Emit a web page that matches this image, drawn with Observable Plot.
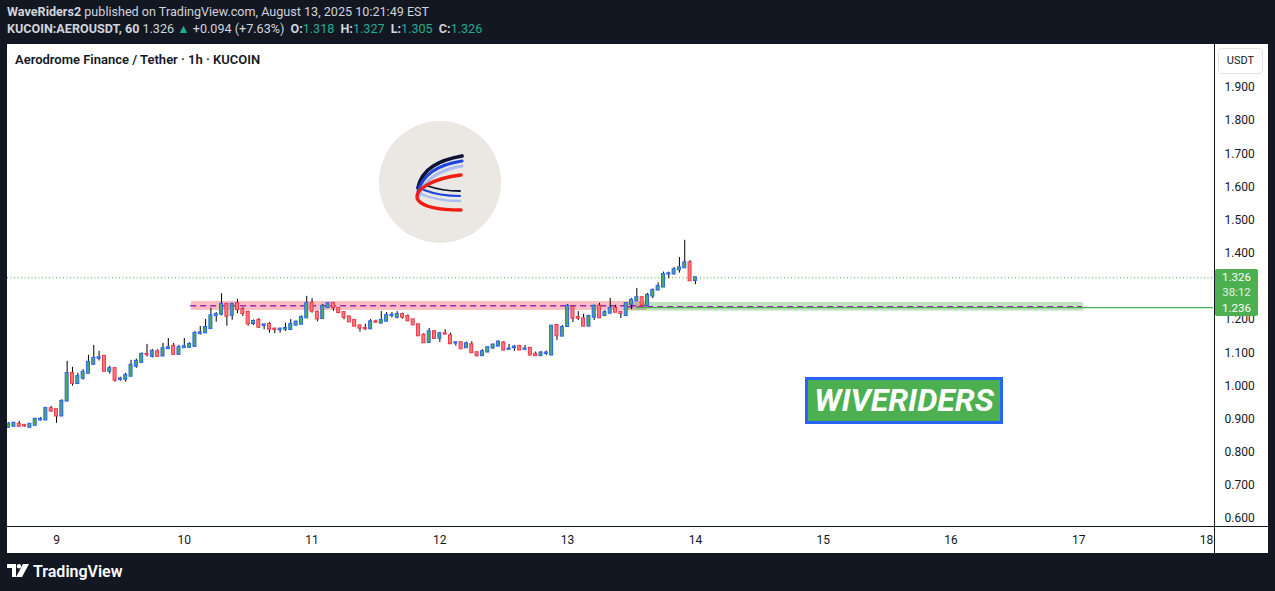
<!DOCTYPE html>
<html><head><meta charset="utf-8">
<script src="https://cdn.jsdelivr.net/npm/d3@7"></script>
<script src="https://cdn.jsdelivr.net/npm/@observablehq/plot@0.6"></script>
<style>
html,body{margin:0;padding:0;}
body{width:1275px;height:591px;background:#131722;position:relative;overflow:hidden;font-family:Roboto,"Noto Sans",sans-serif;}
.hdr{position:absolute;left:7px;color:#d1d4dc;font-size:12.6px;white-space:nowrap;line-height:16px;}
.hdr b{font-weight:700;}
.up{color:#22ab94;}
.sp{margin-left:3px;}
#panel{position:absolute;left:7px;top:44px;width:1261px;height:509px;background:#fff;overflow:hidden;}
#title{position:absolute;left:8px;top:8px;font-size:13px;font-weight:600;color:#131722;white-space:nowrap;}
.vline{position:absolute;left:1207px;top:0;width:1px;height:509px;background:#131722;}
.hline{position:absolute;left:0;top:482px;width:1261px;height:1px;background:#131722;}
#usdt{position:absolute;left:1211px;top:4px;width:43px;height:24px;border:1px solid #e0e3eb;border-radius:4px;font-size:11px;color:#131722;text-align:center;line-height:24px;background:#fff;}
#plabel{position:absolute;left:1208px;width:43px;background:#4caf50;border-radius:2px;color:#fff;font-size:11.5px;text-align:center;}
#plabel div{position:absolute;left:0;width:43px;height:13px;line-height:13px;}
#wr{position:absolute;left:798px;top:333px;width:192px;height:41px;background:#4caf50;border:3px solid #2962ff;color:#fff;font-weight:700;font-style:italic;font-size:32px;line-height:41px;text-align:center;font-family:Roboto,sans-serif;}
#logo{position:absolute;left:0;top:0;}
#foot{position:absolute;left:7px;top:562px;color:#fff;font-size:16px;font-weight:600;white-space:nowrap;}
</style>
</head><body>
<div class="hdr" style="top:4px"><b>WaveRiders2</b> published on TradingView.com, August 13, 2025 10:21:49 EST</div>
<div class="hdr" style="top:21px"><b>KUCOIN:AEROUSDT, 60</b><span class="sp">1.326</span> <span class="up">▲</span> +0.094 (+7.63%) <b class="sp">O:</b><span class="up">1.318</span> <b class="sp">H:</b><span class="up">1.327</span> <b class="sp">L:</b><span class="up">1.305</span> <b class="sp">C:</b><span class="up">1.326</span></div>
<div id="panel">
  <div id="chart"></div>
  <div id="title">Aerodrome Finance / Tether · 1h · KUCOIN</div>
  <svg id="logo" width="1261" height="482">
    <circle cx="433" cy="138" r="61" fill="#ebe8e3"/>
    <g fill="none" stroke-linecap="round">
      <path d="M411,144 C415,124 433,116 455,112" stroke="#0c1233" stroke-width="3.8"/>
      <path d="M411,148 C416,128 435,120 455,117" stroke="#1f45e0" stroke-width="3.2"/>
      <path d="M412,152 C418,133 437,125 455,122" stroke="#a9bdf2" stroke-width="3.2"/>
      <path d="M421,142 C432,146 443,147 453,147" stroke="#0c1233" stroke-width="1.8"/>
      <path d="M417,146 C430,151 443,152 453,152" stroke="#1f45e0" stroke-width="2.2"/>
      <path d="M414,150 C428,156 443,157 453,157" stroke="#a9bdf2" stroke-width="2.4"/>
      <path d="M454,131 C427,134 405,146 411,156 C417,164 438,166 454,166" stroke="#f21d12" stroke-width="3.4"/>
    </g>
  </svg>
  <div id="wr">WIVERIDERS</div>
  <div class="vline"></div>
  <div class="hline"></div>
  <div id="usdt">USDT</div>
  <div id="plabel"><div style="top:2px">1.326</div><div style="top:17px;color:#e3f2e3">38:12</div><div style="top:33px">1.236</div></div>
</div>
<div id="foot"><svg width="24" height="14" style="vertical-align:-1px;margin-right:2px"><path d="M0,0H9V13H5V4H0Z" fill="#fff"/><circle cx="12" cy="2.2" r="2.2" fill="#fff"/><path d="M16,0H22L15,13H9Z" fill="#fff"/></svg>TradingView</div>
<script>
// Hourly candles, first candle = Aug 8 15:00, last = Aug 14 00:00
const startDay = 8, startHour = 15;
const opens = [0.875,0.878,0.884,0.880,0.875,0.881,0.897,0.897,0.931,0.928,
0.909,0.954,1.037,1.007,1.023,1.038,1.065,1.083,1.089,1.044,
1.052,1.019,1.020,1.029,1.059,1.071,1.095,1.089,1.103,1.090,
1.112,1.119,1.095,1.115,1.116,1.119,1.158,1.160,1.173,1.212,
1.216,1.246,1.213,1.248,1.230,1.222,1.188,1.197,1.182,1.185,
1.171,1.169,1.171,1.170,1.183,1.186,1.205,1.248,1.222,1.203,
1.236,1.248,1.233,1.221,1.208,1.197,1.181,1.173,1.172,1.193,
1.189,1.195,1.212,1.207,1.215,1.209,1.199,1.184,1.152,1.131,
1.163,1.144,1.157,1.151,1.129,1.130,1.115,1.124,1.100,1.091,
1.102,1.114,1.120,1.129,1.110,1.115,1.119,1.110,1.113,1.095,
1.091,1.098,1.093,1.182,1.150,1.179,1.237,1.206,1.202,1.180,
1.207,1.240,1.212,1.219,1.234,1.222,1.212,1.246,1.256,1.266,
1.242,1.271,1.289,1.298,1.337,1.338,1.350,1.356,1.371,1.318];
const highs = [0.889,0.890,0.893,0.884,0.886,0.902,0.904,0.934,0.938,0.928,
0.958,1.074,1.056,1.038,1.049,1.092,1.122,1.104,1.089,1.059,
1.052,1.026,1.038,1.077,1.081,1.099,1.125,1.110,1.109,1.128,
1.143,1.128,1.122,1.143,1.130,1.164,1.179,1.200,1.234,1.221,
1.278,1.248,1.249,1.261,1.236,1.225,1.199,1.203,1.184,1.191,
1.174,1.174,1.189,1.200,1.196,1.211,1.270,1.263,1.225,1.246,
1.248,1.252,1.234,1.221,1.208,1.197,1.181,1.186,1.200,1.198,
1.224,1.221,1.221,1.224,1.219,1.214,1.199,1.184,1.158,1.173,
1.167,1.161,1.169,1.159,1.131,1.130,1.132,1.133,1.100,1.109,
1.115,1.126,1.135,1.133,1.125,1.122,1.122,1.122,1.113,1.102,
1.104,1.105,1.182,1.183,1.182,1.245,1.240,1.224,1.216,1.213,
1.243,1.249,1.227,1.264,1.243,1.222,1.250,1.263,1.294,1.266,
1.279,1.292,1.311,1.343,1.343,1.357,1.387,1.439,1.378,1.327];
const lows = [0.874,0.878,0.878,0.875,0.875,0.881,0.894,0.897,0.920,0.887,
0.909,0.954,0.999,1.005,1.017,1.038,1.065,1.075,1.044,1.035,
1.011,1.014,1.011,1.029,1.053,1.068,1.087,1.084,1.087,1.090,
1.110,1.093,1.093,1.114,1.114,1.117,1.153,1.160,1.171,1.192,
1.211,1.180,1.198,1.218,1.209,1.180,1.182,1.173,1.169,1.159,
1.157,1.159,1.164,1.169,1.183,1.186,1.205,1.219,1.193,1.201,
1.236,1.225,1.218,1.199,1.193,1.180,1.162,1.167,1.172,1.189,
1.189,1.195,1.205,1.202,1.201,1.194,1.184,1.151,1.129,1.128,
1.140,1.131,1.154,1.125,1.120,1.112,1.115,1.099,1.087,1.091,
1.102,1.111,1.118,1.106,1.108,1.104,1.107,1.108,1.093,1.091,
1.091,1.091,1.093,1.137,1.150,1.176,1.191,1.197,1.180,1.180,
1.197,1.205,1.209,1.219,1.222,1.203,1.209,1.230,1.256,1.240,
1.240,1.263,1.287,1.298,1.323,1.334,1.340,1.356,1.317,1.305];
const closes = [0.884,0.887,0.878,0.879,0.884,0.899,0.899,0.932,0.924,0.909,
0.953,1.037,1.008,1.028,1.040,1.071,1.083,1.085,1.044,1.052,
1.017,1.021,1.031,1.062,1.074,1.095,1.094,1.104,1.089,1.112,
1.115,1.095,1.115,1.118,1.125,1.158,1.160,1.176,1.211,1.215,
1.246,1.210,1.246,1.230,1.218,1.187,1.194,1.177,1.184,1.171,
1.170,1.171,1.173,1.185,1.192,1.206,1.248,1.225,1.202,1.240,
1.248,1.236,1.221,1.207,1.193,1.180,1.174,1.172,1.193,1.192,
1.197,1.212,1.213,1.215,1.207,1.196,1.184,1.151,1.130,1.163,
1.143,1.157,1.156,1.127,1.130,1.112,1.127,1.100,1.091,1.103,
1.115,1.123,1.132,1.108,1.111,1.117,1.108,1.111,1.093,1.091,
1.099,1.099,1.180,1.151,1.176,1.240,1.204,1.204,1.180,1.209,
1.240,1.205,1.221,1.234,1.222,1.218,1.248,1.258,1.266,1.243,
1.273,1.288,1.300,1.336,1.338,1.350,1.356,1.371,1.317,1.326];

// 1.300 is hidden behind the price label in the reference, so it is not listed
const yTicks = [0.6,0.7,0.8,0.9,1.0,1.1,1.2,1.4,1.5,1.6,1.7,1.8,1.9];
const dayTicks = [9,10,11,12,13,14,15,16,17,18];
const xDomain = [8.6165, 18.0547];
const yDomain = [0.5757, 2.0297];

// Drawings: resistance zone (pink), support zone (green), levels
const resistZone = [{x1: 10.056, x2: 13.623, y1: 1.2275, y2: 1.2546}];
const supportZone = [{x1: 13.469, x2: 17.037, y1: 1.2254, y2: 1.2516}];
const dashedLevels = [{x1: 10.05, x2: 13.62, y: 1.2415}, {x1: 13.47, x2: 17.03, y: 1.2385}];
const levelLine = [{x1: 13.54, x2: 18.0547, y: 1.236}];
const lastPrice = 1.326;
const levelPrice = 1.236;

const candles = opens.map((o, i) => ({t: startDay + (startHour + i) / 24, o, h: highs[i], l: lows[i], c: closes[i]}));
const upC = candles.filter(d => d.c >= d.o);
const dnC = candles.filter(d => d.c < d.o);
const half = 0.28 / 24;

const plot = Plot.plot({
  width: 1261, height: 509,
  marginLeft: 0, marginRight: 55, marginTop: 0, marginBottom: 27,
  style: {fontFamily: "Roboto, sans-serif", fontSize: "12px", color: "#131722", background: "transparent"},
  x: {type: "linear", domain: xDomain},
  y: {type: "linear", domain: yDomain},
  marks: [
    Plot.rect(resistZone, {x1: "x1", x2: "x2", y1: "y1", y2: "y2", fill: "#f23645", fillOpacity: 0.33}),
    Plot.rect(supportZone, {x1: "x1", x2: "x2", y1: "y1", y2: "y2", fill: "#4caf50", fillOpacity: 0.35}),
    Plot.ruleY(dashedLevels, {x1: "x1", x2: "x2", y: "y", stroke: "#9c27b0", strokeWidth: 1.5, strokeDasharray: "6,4"}),
    Plot.ruleY(levelLine, {x1: "x1", x2: "x2", y: "y", stroke: "#4caf50", strokeWidth: 1.2}),
    Plot.ruleY([lastPrice], {stroke: "#4caf50", strokeWidth: 1, strokeDasharray: "1,2.5"}),
    Plot.ruleX(candles, {x: "t", y1: "l", y2: "h", stroke: "#000", strokeWidth: 1}),
    Plot.rect(upC, {x1: d => d.t - half, x2: d => d.t + half, y1: "o", y2: "c", fill: "#4caf50", stroke: "#2962ff", strokeWidth: 1, insetTop: -0.5, insetBottom: -0.5}),
    Plot.rect(dnC, {x1: d => d.t - half, x2: d => d.t + half, y1: "o", y2: "c", fill: "#f77c80", stroke: "#f23645", strokeWidth: 1, insetTop: -0.5, insetBottom: -0.5}),
    Plot.axisY(yTicks, {anchor: "right", tickSize: 0, tickPadding: 11, tickFormat: d3.format(".3f"), fill: "#131722", fontSize: 12}),
    Plot.axisX(dayTicks, {anchor: "bottom", tickSize: 0, tickPadding: 9, tickFormat: d => String(d), fill: "#131722", fontSize: 12})
  ]
});
document.getElementById("chart").appendChild(plot);

const ys = plot.scale("y");
const lbl = document.getElementById("plabel");
const top1 = ys.apply(lastPrice) - 8;
const bot = ys.apply(levelPrice) + 9;
lbl.style.top = top1 + "px";
lbl.style.height = (bot - top1) + "px";
</script>
</body></html>
